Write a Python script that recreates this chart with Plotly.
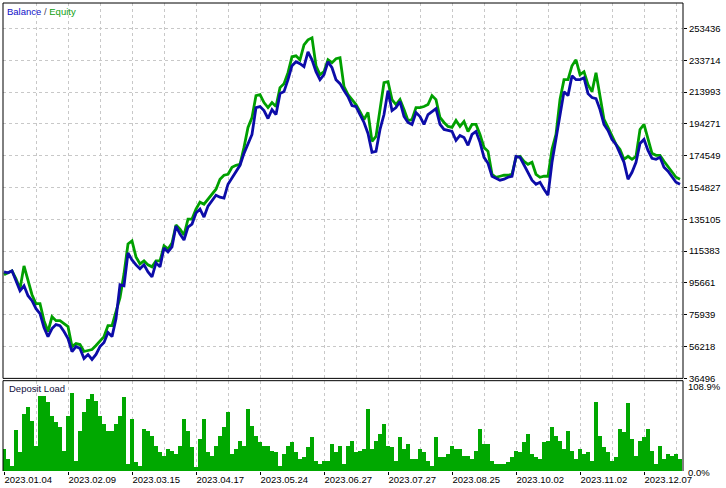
import plotly.graph_objects as go

dates = ["2023.01.04", "2023.02.09", "2023.03.15", "2023.04.17", "2023.05.24", "2023.06.27",
         "2023.07.27", "2023.08.25", "2023.10.02", "2023.11.02", "2023.12.07"]
price_ticks = [36496, 56218, 75939, 95661, 115383, 135105, 154827, 174549, 194271, 213993, 233714, 253436]
load_labels = ["0.0%", "108.9%"]

balance = [
    102550, 101930, 103160, 96370, 90820, 93900, 87730, 84650, 79710, 76620,
    67980, 62420, 67360, 69830, 69210, 65510, 61190, 53160, 56250, 55020,
    48840, 51310, 48230, 51310, 56250, 58720, 64890, 62420, 73530, 94520,
    93900, 114280, 109960, 106870, 104400, 106870, 102550, 99460, 108100, 105630,
    117360, 114890, 117980, 130940, 126000, 122300, 130330, 132180, 138970, 141440,
    136500, 143290, 146990, 150080, 148850, 148230, 156870, 160570, 164890, 168600,
    176010, 181560, 187730, 204400, 205020, 202550, 197610, 203170, 200080, 213040,
    214280, 221690, 230330, 232800, 231560, 229710, 238970, 234030, 226620, 221690,
    224770, 232800, 229090, 221690, 219220, 214900, 211190, 205640, 205020, 200080,
    195140, 188350, 176620, 177240, 190820, 200080, 214900, 202550, 204400, 208100,
    198850, 195140, 193910, 201320, 198850, 193910, 200080, 201930, 203780, 193910,
    190820, 190200, 189590, 184030, 187120, 185880, 180940, 187730, 189590, 182800,
    173540, 169830, 161810, 160570, 159340, 159960, 161190, 161810, 174150, 173540,
    168600, 163660, 159340, 156870, 158100, 153780, 150080, 170450, 184650, 198230,
    214280, 211810, 224160, 221690, 221690, 222920, 213040, 210580, 209960, 203170,
    193910, 190200, 184650, 181560, 175390, 170450, 159960, 164280, 170450, 182180,
    184650, 177860, 172920, 172300, 173540, 167360, 164890, 161810, 158100, 156870,
]

equity = [
    100700, 101930, 103160, 98230, 92050, 106250, 96370, 88350, 82790, 82790,
    72300, 65510, 74770, 72300, 72300, 70450, 68600, 56250, 58100, 57480,
    53160, 53780, 54400, 56870, 59950, 62420, 69210, 69210, 77860, 86500,
    101310, 119830, 121680, 111810, 107490, 109340, 106870, 105630, 109340, 109340,
    118600, 116750, 120450, 131560, 129090, 125390, 135260, 135260, 141440, 145760,
    144520, 147610, 150700, 153780, 159960, 162430, 163040, 167360, 168600, 169220,
    179710, 192060, 198230, 211810, 212430, 207490, 204400, 207490, 205020, 216750,
    219220, 226010, 235880, 236500, 234030, 243290, 246380, 247610, 230330, 224770,
    226620, 234030, 232180, 234650, 235270, 217370, 212430, 209340, 206250, 201930,
    196990, 201320, 183410, 186500, 203170, 219830, 220450, 209340, 206250, 209340,
    203170, 196380, 196990, 204400, 204400, 205020, 206250, 211810, 209340, 198230,
    195140, 192670, 192060, 196380, 192670, 195760, 189590, 193910, 193910, 187730,
    179710, 177240, 163040, 161190, 161810, 162430, 162430, 163040, 173540, 174150,
    171070, 169220, 170450, 163040, 161190, 161810, 161810, 178480, 187730, 209340,
    221690, 221690, 230330, 234030, 224770, 226620, 218600, 214280, 226010, 212430,
    196990, 192060, 186500, 181560, 178480, 172300, 174150, 172300, 174150, 190820,
    193910, 184650, 176010, 174770, 174770, 171070, 167980, 164280, 161190, 159960,
]

deposit_load = [
    26.7, 14.6, 6.4, 50, 23, 69, 77.7, 61, 30.7, 91.4,
    91.4, 83.8, 67, 59.5, 53.4, 24.6, 67, 95.5, 12.5, 49,
    71.6, 87.4, 93.5, 85.3, 67, 57, 49, 49, 57, 67,
    90, 8.5, 63, 11, 6.4, 51, 49, 42.9, 30.7, 22.7,
    18.6, 26.7, 24.6, 20.6, 30.7, 63, 49, 28.8, 4.5, 38.8,
    63, 23, 18.6, 30.7, 42.9, 53.4, 71.6, 20.6, 26.7, 36.8,
    30.7, 75.3, 55, 42.9, 35.2, 30.4, 30.7, 24.6, 23, 6.4,
    20.6, 30.7, 35.2, 23, 14.6, 17, 28.8, 41.3, 12.5, 8.5,
    12.5, 12.5, 32.8, 23, 30.7, 8.5, 30.7, 36.8, 23, 24.6,
    26.7, 75.3, 26.7, 36.8, 45, 57, 30.7, 28.8, 12.5, 40.9,
    26.7, 32.8, 14.6, 14.6, 26.7, 23, 12.5, 6.4, 40.9, 17,
    17, 20.6, 30.4, 26.7, 26.7, 18.6, 18.2, 14.6, 24.6, 51,
    32.8, 32.8, 12.5, 8.5, 8.5, 8.5, 10.6, 16.6, 24.6, 22.7,
    34.8, 45, 20.6, 16.6, 14.6, 34.8, 36.8, 53, 42.9, 36.8,
    26.7, 49, 24.6, 14.6, 26.7, 20.6, 22.7, 12.5, 84, 42.9,
    28.8, 22.7, 12.5, 16.6, 51, 47.3, 82.5, 38.8, 18.6, 36.8,
    40.9, 51, 24.6, 8.5, 30.7, 14.6, 20.6, 18.6, 20.6, 14.6,
]

idx = list(range(len(balance)))
date_pos = [16 * k for k in range(len(dates))]

FONT = dict(family="Liberation Sans, Arial, sans-serif", size=9.5, color="#000000")
GRID = "#c8c8c8"

fig = go.Figure()
fig.add_trace(go.Bar(x=idx, y=deposit_load, xaxis="x", yaxis="y2", width=1,
                     marker=dict(color="#00a800", line=dict(width=0))))
fig.add_trace(go.Scatter(x=idx, y=equity, mode="lines", xaxis="x", yaxis="y",
                         line=dict(color="#00a000", width=2.8)))
fig.add_trace(go.Scatter(x=idx, y=balance, mode="lines", xaxis="x", yaxis="y",
                         line=dict(color="#0c0ca8", width=2.8)))

top_lo = 0.1979
bot_hi = 0.193

fig.update_layout(
    width=726, height=488,
    margin=dict(l=3, r=43, t=3, b=15),
    paper_bgcolor="white", plot_bgcolor="white",
    showlegend=False, bargap=0,
    font=FONT,
    xaxis=dict(range=[-0.25, 169.75], anchor="y2",
               tickvals=date_pos, ticktext=dates,
               ticks="outside", ticklen=3, tickcolor="#000",
               ticklabelposition="outside right",
               tickfont=FONT,
               showgrid=True, gridcolor=GRID, griddash="3px,3px", gridwidth=1,
               minor=dict(tick0=0, dtick=8, showgrid=True, gridcolor=GRID,
                          griddash="3px,3px", gridwidth=1, ticks=""),
               zeroline=False, showline=False),
    yaxis=dict(domain=[top_lo, 1], range=[36496, 269218], side="right", anchor="x",
               tickvals=price_ticks, ticktext=[str(v) for v in price_ticks],
               ticks="outside", ticklen=3, tickcolor="#000", tickfont=FONT,
               showgrid=True, gridcolor=GRID, griddash="3px,3px", gridwidth=1,
               zeroline=False, showline=False),
    yaxis2=dict(domain=[0, bot_hi], range=[0, 110], anchor="x",
                showticklabels=False, showgrid=False, zeroline=False, ticks=""),
)

line = dict(color="#000000", width=1)
fig.add_shape(type="rect", xref="paper", yref="paper", x0=0, x1=1, y0=top_lo, y1=1, line=line)
fig.add_shape(type="line", xref="paper", yref="paper", x0=0, x1=1, y0=bot_hi, y1=bot_hi, line=line)
fig.add_shape(type="line", xref="paper", yref="paper", x0=0, x1=0, y0=0, y1=bot_hi, line=line)
fig.add_shape(type="line", xref="paper", yref="paper", x0=1, x1=1, y0=0, y1=bot_hi, line=line)

fig.add_annotation(xref="paper", yref="paper", x=0.003, y=0.982, xanchor="left", yanchor="middle",
                   showarrow=False, font=FONT,
                   text="<span style='color:#1010c8'>Balance</span>"
                        "<span style='color:#404060'> / </span>"
                        "<span style='color:#10a010'>Equity</span>")
fig.add_annotation(xref="paper", yref="paper", x=0.006, y=0.1766, xanchor="left", yanchor="middle",
                   showarrow=False, font=dict(family=FONT["family"], size=9.5, color="#101040"),
                   text="Deposit Load")
fig.add_annotation(xref="paper", yref="paper", x=1, xshift=3, y=0.1809, xanchor="left",
                   yanchor="middle", showarrow=False, font=FONT, text=load_labels[1])
fig.add_annotation(xref="paper", yref="paper", x=1, xshift=3, y=-0.004, xanchor="left",
                   yanchor="middle", showarrow=False, font=FONT, text=load_labels[0])

fig.write_html("out.html",
               config={"displayModeBar": False, "staticPlot": True},
               post_script="document.body.style.margin='0';document.body.style.padding='0';"
                           "document.body.style.overflow='hidden';")
